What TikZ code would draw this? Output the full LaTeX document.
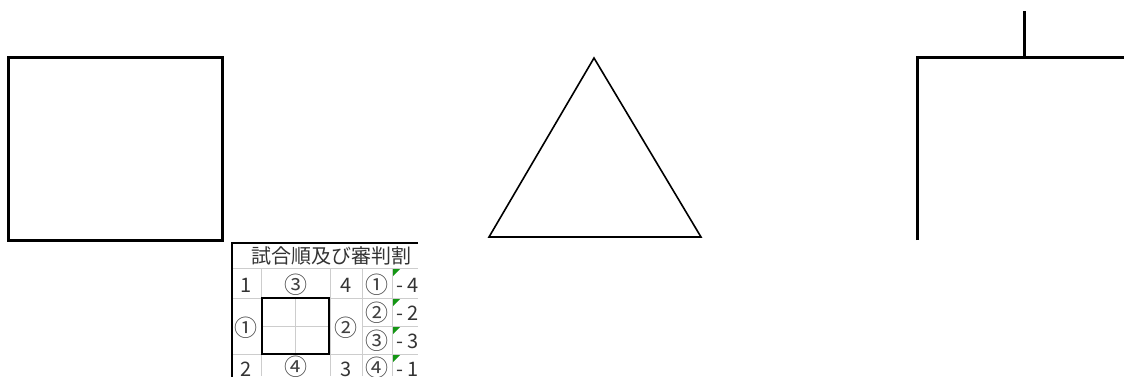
\documentclass[tikz,border=0pt]{standalone}
\usepackage{fontspec}
\newfontfamily\cjk{Noto Sans CJK JP}
\definecolor{flaggreen}{RGB}{20,150,20}
\definecolor{gridgray}{RGB}{205,205,205}
\begin{document}
\begin{tikzpicture}[x=1pt,y=-1pt,
  heavy/.style={line width=3pt},
  triline/.style={line width=1.6pt,line join=miter},
  gridline/.style={draw=gridgray,line width=0.9pt},
  border/.style={line width=2pt},
  boxline/.style={line width=2.6pt},
  cell/.style={font=\cjk\fontsize{20}{20}\selectfont,inner sep=0pt,text=black!80},
  circ/.style={font=\cjk\fontsize{23}{23}\selectfont,inner sep=0pt,text=black!75},
  dcell/.style={cell,anchor=west},
  flag/.style={fill=flaggreen}]
\useasboundingbox (0,0) rectangle (1124,376);
% left square
\draw[heavy] (8,57) rectangle (222,240);
% triangle
\draw[triline] (594,58) -- (701,237) -- (489,237) -- cycle;
% right bracket
\draw[heavy] (917,240) -- (917,57) -- (1124,57);
\draw[heavy] (1024,11) -- (1024,57);
% table grid
\draw[gridline] (232,268) -- (418,268);
\draw[gridline] (232,298) -- (418,298);
\draw[gridline] (232,354) -- (418,354);
\draw[gridline] (362,326) -- (418,326);
\draw[gridline] (261,326) -- (330,326);
\draw[gridline] (295,298) -- (295,354);
\foreach \x in {261,330,362,392} \draw[gridline] (\x,268) -- (\x,376);
\draw[border] (418,243) -- (232,243) -- (232,377);
\draw[boxline] (262,298) rectangle (329,354);
% title
\node[cell] (title) at (331,256) {試合順及び審判割};
% row 1
\node[cell] (r1a) at (246,285) {1};
\node[circ] (r1b) at (296,285) {③};
\node[cell] (r1c) at (346,285) {4};
\node[circ] (r1d) at (377,285) {①};
\node[dcell] (r1e) at (396,285) {- 4};
% middle rows
\node[circ] (r2a) at (246,328) {①};
\node[circ] (r2c) at (346,328) {②};
\node[circ] (r2d) at (377,313) {②};
\node[dcell] (r2e) at (396,313) {- 2};
\node[circ] (r3d) at (377,341) {③};
\node[dcell] (r3e) at (396,341) {- 3};
% bottom row
\node[cell] (r4a) at (246,369) {2};
\node[circ] (r4b) at (296,367) {④};
\node[cell] (r4c) at (346,369) {3};
\node[circ] (r4d) at (377,368) {④};
\node[dcell] (r4e) at (396,369) {- 1};
% green flags
\foreach \y in {269,299,327,355}
  \fill[flag] (393,\y) -- (400,\y) -- (393,\y+7) -- cycle;
\end{tikzpicture}
\end{document}
